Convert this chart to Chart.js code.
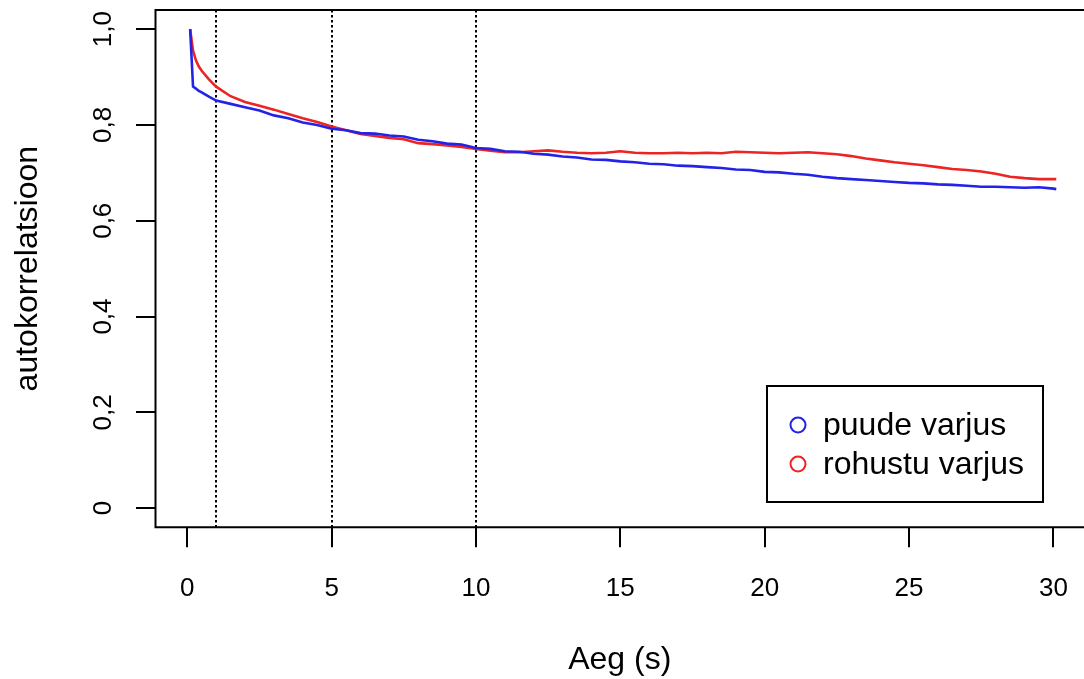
<!DOCTYPE html>
<html>
<head>
<meta charset="utf-8">
<script src="https://cdn.jsdelivr.net/npm/chart.js@4.4.0/dist/chart.umd.min.js"></script>
<style>
  html, body { margin: 0; padding: 0; background: #fff; overflow: hidden; }
  #wrap { position: relative; width: 1084px; height: 679px; }
</style>
</head>
<body>
<div id="wrap"><canvas id="acf"></canvas></div>
<script>
// lag (s)
var lagTimes = [0.1, 0.2, 0.3, 0.4, 0.5, 0.75, 1, 1.5, 2, 2.5, 3, 3.5, 4, 4.5, 5, 5.5, 6, 6.5, 7, 7.5,
  8, 8.5, 9, 9.5, 10, 10.5, 11, 11.5, 12, 12.5, 13, 13.5, 14, 14.5, 15, 15.5, 16, 16.5, 17, 17.5,
  18, 18.5, 19, 19.5, 20, 20.5, 21, 21.5, 22, 22.5, 23, 23.5, 24, 24.5, 25, 25.5, 26, 26.5, 27, 27.5,
  28, 28.5, 29, 29.5, 30, 30.1];

var puudeVarjus = [1.000, 0.880, 0.876, 0.871, 0.868, 0.859, 0.851, 0.844, 0.837, 0.830, 0.820, 0.814, 0.805, 0.800, 0.792, 0.789, 0.783, 0.782, 0.778, 0.776,
  0.769, 0.766, 0.761, 0.759, 0.752, 0.750, 0.745, 0.744, 0.740, 0.738, 0.734, 0.732, 0.728, 0.727, 0.724, 0.722, 0.719, 0.718, 0.715, 0.714,
  0.712, 0.710, 0.707, 0.706, 0.702, 0.701, 0.698, 0.696, 0.692, 0.689, 0.687, 0.685, 0.683, 0.681, 0.679, 0.678, 0.676, 0.675, 0.673, 0.671,
  0.671, 0.670, 0.669, 0.670, 0.667, 0.666];

var rohustuVarjus = [1.000, 0.955, 0.935, 0.922, 0.913, 0.895, 0.880, 0.860, 0.848, 0.840, 0.832, 0.823, 0.814, 0.806, 0.797, 0.789, 0.781, 0.777, 0.773, 0.770,
  0.762, 0.760, 0.757, 0.754, 0.750, 0.746, 0.743, 0.743, 0.745, 0.747, 0.744, 0.742, 0.741, 0.742, 0.745, 0.742, 0.741, 0.741, 0.742, 0.741,
  0.742, 0.741, 0.744, 0.743, 0.742, 0.741, 0.742, 0.743, 0.741, 0.739, 0.735, 0.730, 0.726, 0.722, 0.719, 0.716, 0.712, 0.708, 0.706, 0.703,
  0.698, 0.692, 0.689, 0.687, 0.687, 0.687];

var xTicks = [0, 5, 10, 15, 20, 25, 30];
var yTicks = [0, 0.2, 0.4, 0.6, 0.8, 1.0];
var markerLags = [1, 5, 10];
var seriesNames = ['puude varjus', 'rohustu varjus'];

var FONT = '"Liberation Sans", Arial, Helvetica, sans-serif';
Chart.defaults.font.family = FONT;
Chart.defaults.color = '#000';

function toPoints(ys) {
  return lagTimes.map(function (t, i) { return { x: t, y: ys[i] }; });
}

// no extra room for overhanging tick labels: plot box is fixed like in R
function noLabelPadding(s) {
  s.paddingTop = 0; s.paddingBottom = 0; s.paddingLeft = 0; s.paddingRight = 0;
}

var frame = {
  id: 'frame',
  beforeDatasetsDraw: function (chart) {
    var c = chart.ctx, a = chart.chartArea, xs = chart.scales.x;
    c.save();
    c.strokeStyle = '#000';
    c.lineWidth = 2;
    c.setLineDash([2.5, 2.5]);
    markerLags.forEach(function (v) {
      var px = Math.round(xs.getPixelForValue(v));
      c.beginPath();
      c.moveTo(px, a.top);
      c.lineTo(px, a.bottom);
      c.stroke();
    });
    c.restore();
  },
  afterDraw: function (chart) {
    var c = chart.ctx, a = chart.chartArea;
    c.save();
    c.strokeStyle = '#000';
    c.lineWidth = 2;
    // plot box runs past the right edge of the picture
    c.beginPath();
    c.moveTo(chart.width + 2, a.top);
    c.lineTo(a.left, a.top);
    c.lineTo(a.left, a.bottom);
    c.lineTo(chart.width + 2, a.bottom);
    c.stroke();

    // legend box
    var lx = 767, ly = 386, lw = 276, lh = 116;
    c.fillStyle = '#fff';
    c.fillRect(lx, ly, lw, lh);
    c.strokeRect(lx, ly, lw, lh);
    c.font = '32px ' + FONT;
    c.textBaseline = 'alphabetic';
    c.textAlign = 'left';
    chart.data.datasets.forEach(function (ds, i) {
      var cy = 425 + i * 39;
      c.strokeStyle = ds.borderColor;
      c.lineWidth = 2;
      c.beginPath();
      c.arc(798, cy, 7.5, 0, Math.PI * 2);
      c.stroke();
      c.fillStyle = '#000';
      c.fillText(ds.label, 823, cy + 10);
    });
    c.restore();
  }
};

new Chart(document.getElementById('acf'), {
  type: 'line',
  data: {
    datasets: [
      { label: seriesNames[0], data: toPoints(puudeVarjus), borderColor: '#2222e8', borderWidth: 2.6, pointRadius: 0, tension: 0, fill: false },
      { label: seriesNames[1], data: toPoints(rohustuVarjus), borderColor: '#ec2424', borderWidth: 2.6, pointRadius: 0, tension: 0, fill: false }
    ]
  },
  options: {
    responsive: true,
    maintainAspectRatio: false,
    animation: false,
    layout: { padding: { top: 10, left: 0, right: 0, bottom: 0 } },
    plugins: { legend: { display: false }, tooltip: { enabled: false } },
    scales: {
      x: {
        type: 'linear',
        position: 'bottom',
        min: -1.1,
        max: 31.06,
        afterBuildTicks: function (s) { s.ticks = xTicks.map(function (v) { return { value: v }; }); },
        afterFit: function (s) { s.height = 151.7; noLabelPadding(s); },
        border: { display: false },
        grid: { drawOnChartArea: false, drawTicks: true, tickLength: 20, color: '#000', lineWidth: 2 },
        ticks: { autoSkip: false, maxRotation: 0, padding: 26, font: { size: 26 }, color: '#000',
          callback: function (v) { return String(v); } },
        title: { display: true, text: 'Aeg (s)', font: { size: 32 }, color: '#000', padding: { top: 0, bottom: 0 } }
      },
      y: {
        type: 'linear',
        position: 'left',
        min: -0.04,
        max: 1.04,
        afterBuildTicks: function (s) { s.ticks = yTicks.map(function (v) { return { value: v }; }); },
        afterFit: function (s) { s.width = 155.5; noLabelPadding(s); },
        border: { display: false },
        grid: { drawOnChartArea: false, drawTicks: true, tickLength: 19.5, color: '#000', lineWidth: 2 },
        ticks: { autoSkip: false, minRotation: 90, maxRotation: 90, crossAlign: 'center', padding: 14,
          font: { size: 26 }, color: '#000',
          callback: function (v) { return v === 0 ? '0' : v.toFixed(1).replace('.', ','); } },
        title: { display: true, text: 'autokorrelatsioon', font: { size: 32 }, color: '#000', padding: { top: 9, bottom: 0 } }
      }
    }
  },
  plugins: [frame]
});
</script>
</body>
</html>
